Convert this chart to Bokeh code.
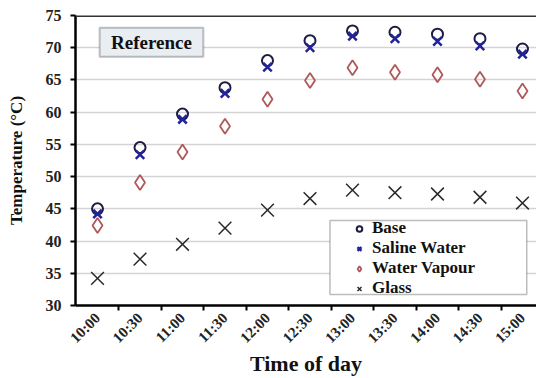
import math
import numpy as np
from bokeh.plotting import figure
from bokeh.models import (Range1d, FixedTicker, Span, BoxAnnotation, Label,
                          Legend, LegendItem, ColumnDataSource)
from bokeh.embed import file_html
from bokeh.resources import INLINE

times = ["10:00", "10:30", "11:00", "11:30", "12:00", "12:30",
         "13:00", "13:30", "14:00", "14:30", "15:00"]
base = [45.0, 54.5, 59.7, 63.8, 68.0, 71.1, 72.6, 72.4, 72.1, 71.4, 69.8]
saline = [44.2, 53.4, 58.9, 62.9, 67.0, 70.0, 71.8, 71.4, 71.0, 70.3, 69.0]
vapour = [42.4, 49.1, 53.8, 57.8, 62.0, 64.9, 66.9, 66.2, 65.8, 65.1, 63.3]
glass = [34.2, 37.2, 39.5, 42.0, 44.8, 46.6, 47.9, 47.5, 47.3, 46.8, 45.9]
y_ticks = [30, 35, 40, 45, 50, 55, 60, 65, 70, 75]

idx = list(range(len(times)))
src = ColumnDataSource(dict(x=idx, base=base, saline=saline,
                            vapour=vapour, glass=glass))

FONT = "Liberation Serif"

p = figure(width=536, height=378, output_backend="svg", toolbar_location=None,
           x_range=Range1d(-0.518, 10.33), y_range=Range1d(30, 75),
           min_border_left=75, min_border_top=15, min_border_right=0,
           min_border_bottom=70)
p.outline_line_color = None
p.background_fill_color = "white"

# axes
p.xaxis.ticker = FixedTicker(ticks=idx,
                             minor_ticks=[i + 0.5 for i in idx])
p.xaxis.major_label_overrides = {i: t for i, t in zip(idx, times)}
p.xaxis.major_label_orientation = math.pi / 4
p.xaxis.major_tick_out = 0
p.xaxis.major_tick_in = 0
p.xaxis.minor_tick_out = 5
p.xaxis.minor_tick_in = 0
p.xaxis.minor_tick_line_width = 2
p.xaxis.minor_tick_line_color = "black"
p.xaxis.axis_label = "Time of day"

p.yaxis.ticker = FixedTicker(ticks=y_ticks)
p.yaxis.major_tick_out = 5
p.yaxis.major_tick_in = 0
p.yaxis.major_tick_line_width = 2
p.yaxis.minor_tick_line_color = None
p.yaxis.axis_label = "Temperature (°C)"

for ax in (p.xaxis, p.yaxis):
    ax.axis_line_width = 2.5
    ax.axis_line_color = "black"
    ax.major_label_text_font = FONT
    ax.major_label_text_font_style = "bold"
    ax.major_label_text_color = "#222222"
    ax.axis_label_text_font = FONT
    ax.axis_label_text_font_style = "bold"
    ax.axis_label_text_color = "#111111"
p.xaxis.major_label_text_font_size = "15px"
p.yaxis.major_label_text_font_size = "16px"
p.xaxis.axis_label_text_font_size = "22px"
p.yaxis.axis_label_text_font_size = "17px"
p.xaxis.axis_label_standoff = -4
p.yaxis.axis_label_standoff = 17
p.xaxis.major_label_standoff = 5
p.yaxis.major_label_standoff = 9

p.xgrid.grid_line_color = None
p.ygrid.grid_line_color = "#d4d4d4"
p.ygrid.grid_line_width = 1.5

p.add_layout(Span(location=75, dimension="width", line_color="#333333",
                  line_width=3))

# Reference box
p.add_layout(BoxAnnotation(left=0.05, right=2.49, top=73.1, bottom=68.6,
                           fill_color="#e9eef3", fill_alpha=1.0,
                           line_color="#333333", line_width=2))
p.add_layout(Label(x=1.27, y=70.85, text="Reference", text_align="center",
                   text_baseline="middle", text_font=FONT,
                   text_font_style="bold", text_font_size="19px",
                   text_color="#111111"))

r_glass = p.scatter("x", "glass", source=src, marker="x", size=18,
                    line_color="#2a2a2a", line_width=1.5)
r_vap = p.scatter("x", "vapour", source=src, marker="diamond", size=15,
                  fill_color=None, line_color="#b05858", line_width=1.8)
r_base = p.scatter("x", "base", source=src, marker="circle", size=11,
                   fill_color=None, line_color="#1c1c44", line_width=2)
r_sal = p.scatter("x", "saline", source=src, marker="x", size=12,
                  line_color="#22229a", line_width=2.5)

# legend box
p.add_layout(BoxAnnotation(left=5.47, right=10.10, top=43.2, bottom=31.7,
                           fill_color="white", fill_alpha=1.0,
                           line_color="#222222", line_width=1.5))

legend = Legend(items=[LegendItem(label="Base", renderers=[r_base]),
                       LegendItem(label="Saline Water", renderers=[r_sal]),
                       LegendItem(label="Water Vapour", renderers=[r_vap]),
                       LegendItem(label="Glass", renderers=[r_glass])],
                location=(277, 7), padding=0, spacing=0, margin=0,
                label_height=19, glyph_height=19, glyph_width=14,
                label_standoff=6, border_line_color=None,
                background_fill_alpha=0.0,
                label_text_font=FONT, label_text_font_style="bold",
                label_text_font_size="17px", label_text_color="#111111")
p.add_layout(legend)

open("out.html", "w").write(file_html(p, INLINE))
